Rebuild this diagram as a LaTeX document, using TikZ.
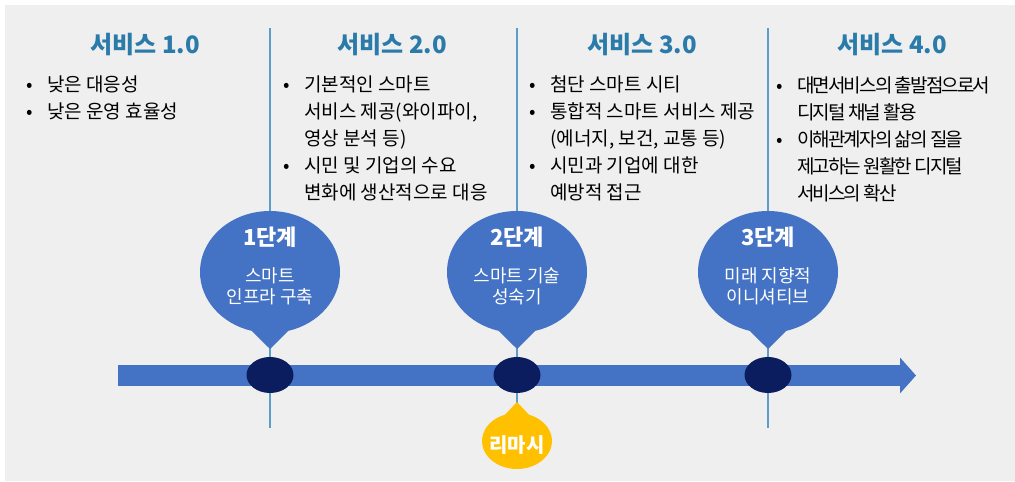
\documentclass[tikz,border=0pt]{standalone}
\usepackage{fontspec}
\setmainfont{Noto Sans CJK KR}
\usepackage{tikz}
\usetikzlibrary{shapes, arrows.meta, positioning}
\definecolor{panel}{HTML}{EFEFEF}
\definecolor{stageblue}{HTML}{4472C4}
\definecolor{navy}{HTML}{0B1D5E}
\definecolor{gold}{HTML}{FFC000}
\definecolor{linecol}{HTML}{5B9EC9}
\definecolor{eratitle}{HTML}{2B7BAA}
\tikzstyle{era} = [text=eratitle, font=\fontsize{24}{28}\selectfont\bfseries]
\tikzstyle{points} = [anchor=north west, align=left, inner sep=0pt, font=\fontsize{19}{27}\selectfont]
\tikzstyle{milestone} = [ellipse, fill=navy, minimum width=47pt, minimum height=36pt, inner sep=0pt]
\tikzstyle{stage} = [ellipse callout, fill=stageblue, minimum width=140pt, minimum height=122pt, inner sep=0pt, callout pointer arc=30]
\tikzstyle{stagetext} = [align=center, text=white, font=\fontsize{18}{21.5}\selectfont]
\tikzstyle{remark} = [ellipse callout, fill=gold, minimum width=70pt, minimum height=56pt, inner sep=0pt, callout pointer arc=40]
\tikzstyle{divider} = [draw=linecol, line width=2.2pt]
\newcommand{\itemdot}{\makebox[6pt][c]{•}\hspace{14pt}}
\newcommand{\itemgap}{\hspace*{20pt}}

\begin{document}
\begin{tikzpicture}[x=1pt, y=1pt, node distance=247pt]
\useasboundingbox (0,0) rectangle (1015,482);
\fill[panel] (5,1) rectangle (1015,477);

% era dividers
\coordinate (top1) at (270,454);
\coordinate (bot1) at (270,54);
\coordinate (top2) at (517,454);
\coordinate (bot2) at (517,54);
\coordinate (top3) at (768,454);
\coordinate (bot3) at (768,54);
\draw[divider] (top1) -- (bot1);
\draw[divider] (top2) -- (bot2);
\draw[divider] (top3) -- (bot3);

% timeline
\coordinate (start) at (118,106.5);
\coordinate (end) at (916,106.5);
\draw[stageblue, line width=21pt, -{Triangle[length=16pt, width=35pt]}] (start) -- (end);

\node (d1) [milestone] at (270,107) {};
\node (d2) [milestone, right of=d1] {};
\node (d3) [milestone, right of=d2, xshift=4pt] {};

% stages
\node (s1) [stage, node distance=103pt, above of=d1, callout relative pointer={(0pt,-16pt)}] {};
\node (s2) [stage, node distance=103pt, above of=d2, callout relative pointer={(0pt,-16pt)}] {};
\node (s3) [stage, node distance=103pt, above of=d3, callout relative pointer={(0pt,-16pt)}] {};
\node (t1) [stagetext, yshift=6pt] at (s1) {{\fontsize{22}{26}\selectfont\bfseries 1단계}\\[15pt]스마트\\인프라 구축};
\node (t2) [stagetext, yshift=6pt] at (s2) {{\fontsize{22}{26}\selectfont\bfseries 2단계}\\[15pt]스마트 기술\\성숙기};
\node (t3) [stagetext, yshift=6pt] at (s3) {{\fontsize{22}{26}\selectfont\bfseries 3단계}\\[15pt]미래 지향적\\이니셔티브};

\node (r) [remark, node distance=66pt, below of=d2, callout relative pointer={(0pt,11pt)}] {};
\node (rt) [text=white, font=\fontsize{20}{24}\selectfont\bfseries, yshift=-4pt] at (r) {리마시};

% eras
\node (h1) [era] at (145,437) {서비스 1.0};
\node (h2) [era, right of=h1] {서비스 2.0};
\node (h3) [era, right of=h2, xshift=3pt] {서비스 3.0};
\node (h4) [era, right of=h3, xshift=3pt] {서비스 4.0};

\node (l1) [points] at (27,406) {\itemdot 낮은 대응성\\\itemdot 낮은 운영 효율성};
\node (l2) [points] at (284,406) {\itemdot 기본적인 스마트\\\itemgap 서비스 제공(와이파이,\\\itemgap 영상 분석 등)\\\itemdot 시민 및 기업의 수요\\\itemgap 변화에 생산적으로 대응};
\node (l3) [points] at (530,406) {\itemdot 첨단 스마트 시티\\\itemdot 통합적 스마트 서비스 제공\\\itemgap (에너지, 보건, 교통 등)\\\itemdot 시민과 기업에 대한\\\itemgap 예방적 접근};
\node (l4) [points, font=\fontsize{19}{27}\selectfont\addfontfeatures{LetterSpace=-10}] at (777,406) {\itemdot 대면서비스의 출발점으로서\\\itemgap 디지털 채널 활용\\\itemdot 이해관계자의 삶의 질을\\\itemgap 제고하는 원활한 디지털\\\itemgap 서비스의 확산};
\end{tikzpicture}
\end{document}
